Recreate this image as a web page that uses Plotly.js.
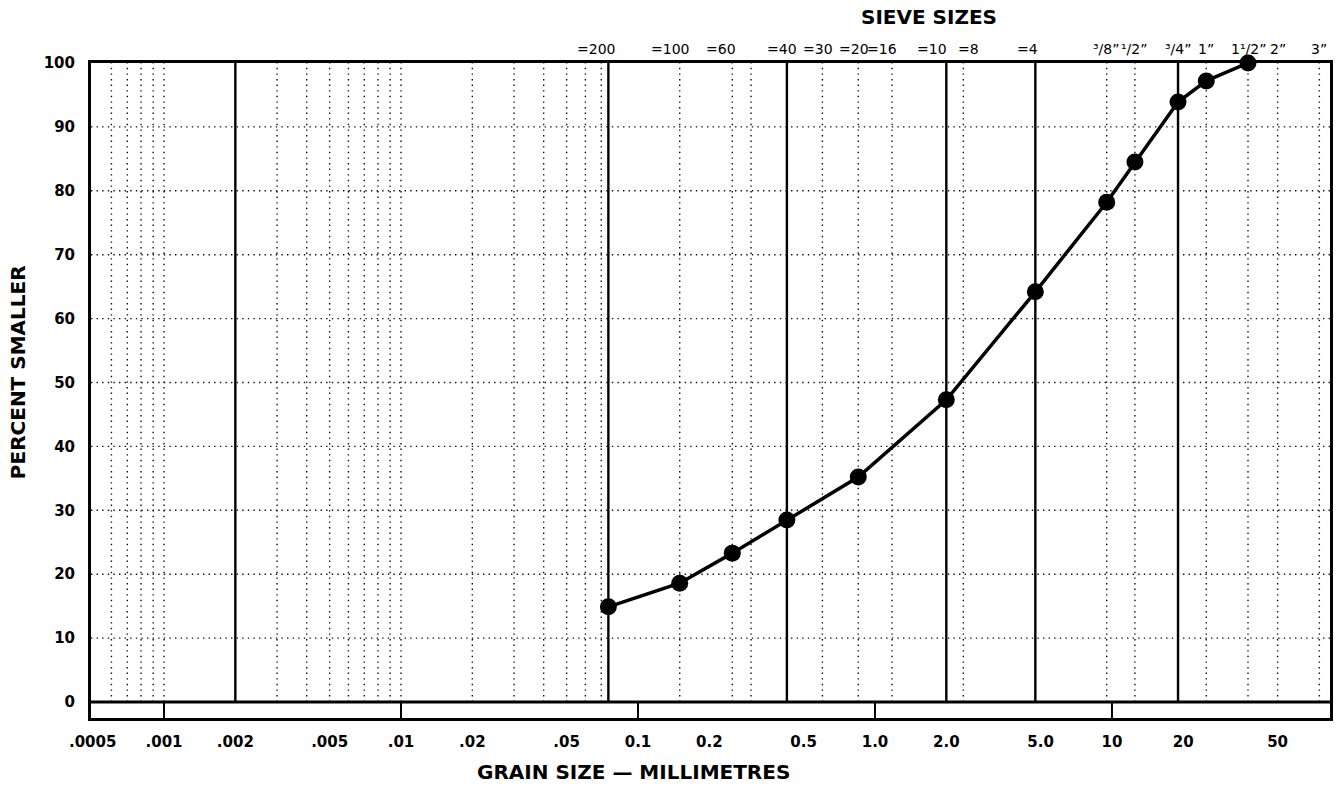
<!DOCTYPE html>
<html>
<head>
<meta charset="utf-8">
<script src="https://cdn.plot.ly/plotly-3.0.1.min.js"></script>
<style>html,body{margin:0;padding:0;background:#fff;}#chart{width:1339px;height:786px;}</style>
</head>
<body>
<div id="chart"></div>
<script>
// ---- data ----
var grainSizeMm = [0.075, 0.15, 0.25, 0.425, 0.85, 2.0, 4.75, 9.5, 12.5, 19, 25, 37.5];
var percentSmaller = [14.9, 18.6, 23.3, 28.5, 35.2, 47.3, 64.2, 78.2, 84.5, 93.9, 97.2, 100];

var sieveMm = [0.075, 0.15, 0.25, 0.425, 0.6, 0.85, 1.18, 2.0, 2.36, 4.75, 9.5, 12.5, 19, 25, 37.5, 50, 75];
var sieveNames = ['=200', '=100', '=60', '=40', '=30', '=20', '=16', '=10', '=8', '=4',
  '\u00B3/8\u201D', '\u00B9/2\u201D', '\u00B3/4\u201D', '1\u201D', '1\u00B9/2\u201D', '2\u201D', '3\u201D'];

var xTickVals = [0.0005, 0.001, 0.002, 0.005, 0.01, 0.02, 0.05, 0.1, 0.2, 0.5, 1, 2, 5, 10, 20, 50];
var xTickText = ['.0005', '.001', '.002', '.005', '.01', '.02', '.05', '0.1', '0.2', '0.5', '1.0', '2.0', '5.0', '10', '20', '50'];
var yTickVals = [0, 10, 20, 30, 40, 50, 60, 70, 80, 90, 100];

var dottedSizes = [0.0006, 0.0007, 0.0008, 0.0009, 0.001, 0.003, 0.004, 0.005, 0.006, 0.007, 0.008, 0.009, 0.01,
  0.02, 0.03, 0.04, 0.05, 0.06, 0.07, 0.15, 0.25, 0.3, 0.6, 0.85, 1.18, 2.36, 9.5, 12.5, 25, 37.5, 50, 75];
var dottedPercents = [10, 20, 30, 40, 50, 60, 70, 80, 90];
var boundarySizes = [0.002, 0.075, 0.425, 2.0, 4.75, 19];
var decadeSizes = [0.001, 0.01, 0.1, 1, 10];

// ---- styling ----
var FONT = 'DejaVu Sans, Liberation Sans, Arial, sans-serif';
var xMinLog = -3.308, xMaxLog = 1.92;
var xMinVal = Math.pow(10, xMinLog), xMaxVal = Math.pow(10, xMaxLog);
var yBottom = -2.5;
var labelShift = {'=200': -12, '=100': -10, '=60': -11, '=40': -5, '=30': -4, '=20': -4, '=16': -10, '=10': -14, '=8': 5, '=4': -8};

function verticals(vals, y0, y1) {
  var xs = [], ys = [];
  vals.forEach(function (v) { xs.push(v, v, null); ys.push(y0, y1, null); });
  return {x: xs, y: ys};
}
function horizontals(vals) {
  var xs = [], ys = [];
  vals.forEach(function (v) { xs.push(xMinVal, xMaxVal, null); ys.push(v, v, null); });
  return {x: xs, y: ys};
}

var vDot = verticals(dottedSizes, 0, 100);
var hDot = horizontals(dottedPercents);
var vSolid = verticals(boundarySizes, 0, 100);
var vDecade = verticals(decadeSizes, yBottom, 0);
var zeroLine = horizontals([0]);

var dotLine = {color: '#111', width: 1.4, dash: '1.4px,4.2px'};

var traces = [
  {x: vDot.x, y: vDot.y, mode: 'lines', line: dotLine, hoverinfo: 'skip', showlegend: false, connectgaps: false},
  {x: hDot.x, y: hDot.y, mode: 'lines', line: dotLine, hoverinfo: 'skip', showlegend: false, connectgaps: false},
  {x: vSolid.x, y: vSolid.y, mode: 'lines', line: {color: '#000', width: 2.4}, hoverinfo: 'skip', showlegend: false},
  {x: vDecade.x, y: vDecade.y, mode: 'lines', line: {color: '#000', width: 2}, hoverinfo: 'skip', showlegend: false},
  {x: zeroLine.x, y: zeroLine.y, mode: 'lines', line: {color: '#000', width: 3}, hoverinfo: 'skip', showlegend: false},
  {x: grainSizeMm, y: percentSmaller, mode: 'lines+markers', cliponaxis: false,
   line: {color: '#000', width: 3.5}, marker: {color: '#000', size: 17}, showlegend: false}
];

var annotations = sieveMm.map(function (v, i) {
  return {x: Math.log10(v), xref: 'x', yref: 'paper', y: 1, yanchor: 'middle', xanchor: 'center',
    yshift: 14, xshift: labelShift[sieveNames[i]] || 0, showarrow: false, text: sieveNames[i],
    font: {family: FONT, size: 14, color: '#000'}};
});
annotations.push({text: 'SIEVE SIZES', xref: 'paper', yref: 'paper', x: 0.676, y: 1.0702,
  xanchor: 'center', yanchor: 'middle', showarrow: false,
  font: {family: FONT, size: 20, color: '#000', weight: 700}});
annotations.push({text: 'GRAIN SIZE \u2014 MILLIMETRES', xref: 'paper', yref: 'paper', x: 0.4375, y: -0.0824,
  xanchor: 'center', yanchor: 'middle', showarrow: false,
  font: {family: FONT, size: 20, color: '#000', weight: 700}});
annotations.push({text: 'PERCENT SMALLER', xref: 'paper', yref: 'paper', x: -0.0589, y: 0.528,
  xanchor: 'center', yanchor: 'middle', textangle: -90, showarrow: false,
  font: {family: FONT, size: 20, color: '#000', weight: 700}});

var layout = {
  width: 1339, height: 786,
  margin: {l: 91, r: 9, t: 63, b: 68},
  paper_bgcolor: '#fff', plot_bgcolor: '#fff',
  showlegend: false,
  xaxis: {type: 'log', range: [xMinLog, xMaxLog], tickmode: 'array', tickvals: xTickVals, ticktext: xTickText,
    showgrid: false, zeroline: false, showline: true, mirror: true, linecolor: '#000', linewidth: 3,
    ticks: 'outside', ticklen: 8, tickcolor: 'rgba(0,0,0,0)',
    tickfont: {family: FONT, size: 15, color: '#000', weight: 700}},
  yaxis: {range: [yBottom, 100], tickmode: 'array', tickvals: yTickVals,
    showgrid: false, zeroline: false, showline: true, mirror: true, linecolor: '#000', linewidth: 3,
    ticks: 'outside', ticklen: 10, tickcolor: 'rgba(0,0,0,0)',
    tickfont: {family: FONT, size: 15, color: '#000', weight: 700}},
  annotations: annotations
};

Plotly.newPlot('chart', traces, layout, {staticPlot: true, displayModeBar: false});
</script>
</body>
</html>
